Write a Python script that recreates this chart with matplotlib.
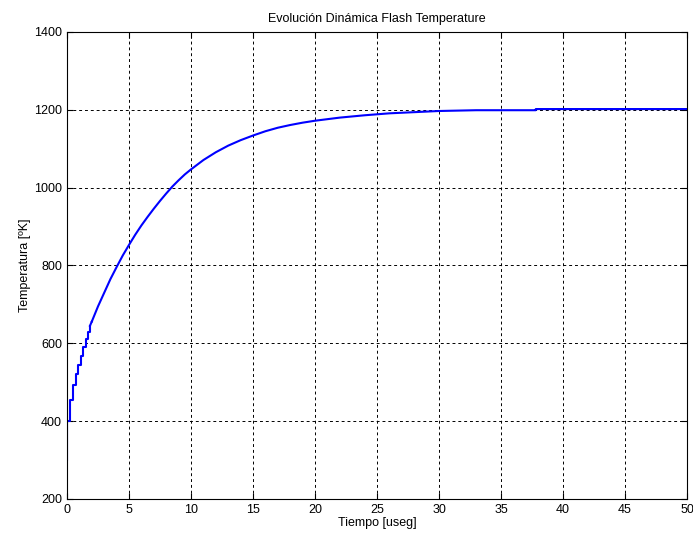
import matplotlib
matplotlib.use('Agg')
import matplotlib.pyplot as plt

plt.rcParams['font.family'] = ['Liberation Sans Narrow', 'Liberation Sans', 'DejaVu Sans']

# primeros escalones del integrador (t [useg], T [K])
t_inicio = [0, 0, 0.28, 0.5, 0.7, 0.9, 1.1, 1.3, 1.5, 1.7, 1.85, 2.0]
T_inicio = [300, 400, 455, 493, 520, 545, 568, 590, 612, 630, 645, 656]

# resto de la curva
t_resto = [2.0, 2.5, 3.0, 3.5, 4.0, 4.5, 5.0, 5.5, 6.0, 6.5, 7.0, 7.5, 8.0,
           8.5, 9.0, 9.5, 10, 11, 12, 13, 14, 15, 16, 17, 18, 19, 20, 22,
           24, 26, 28, 30, 33, 37.8, 37.8, 50]
T_resto = [656, 695, 730, 765, 796, 826, 853, 879, 903, 925, 946, 966, 985,
           1003, 1019, 1034, 1047, 1071, 1091, 1108, 1122, 1134, 1145, 1154,
           1161, 1167, 1172, 1180, 1186, 1191, 1194, 1197, 1199, 1199, 1202,
           1202]

fig = plt.figure(figsize=(6.93, 5.35), dpi=100)
ax = fig.add_axes([0.0967, 0.0673, 0.8947, 0.8729])
ax.plot(t_inicio[:-1], T_inicio[:-1], color='#0000ff', linewidth=1.5, drawstyle='steps-post')
ax.plot(t_inicio[-2:], T_inicio[-2:], color='#0000ff', linewidth=1.5)
ax.plot(t_resto, T_resto, color='#0000ff', linewidth=1.5)
ax.set_xlim(0, 50)
ax.set_ylim(200, 1400)
ax.set_xticks(range(0, 51, 5))
ax.set_yticks(range(200, 1401, 200))
ax.grid(True, color='black', linestyle=(0, (3, 3)), linewidth=0.7)
ax.tick_params(direction='in', top=True, right=True, labelsize=9, length=4)
for s in ax.spines.values():
    s.set_linewidth(0.8)
ax.set_xlabel('Tiempo [useg]', fontsize=9, labelpad=1)
ax.set_ylabel('Temperatura [ºK]', fontsize=9, labelpad=2)
ax.set_title('Evolución Dinámica Flash Temperature', fontsize=9, pad=7)

plt.savefig('out.png')
